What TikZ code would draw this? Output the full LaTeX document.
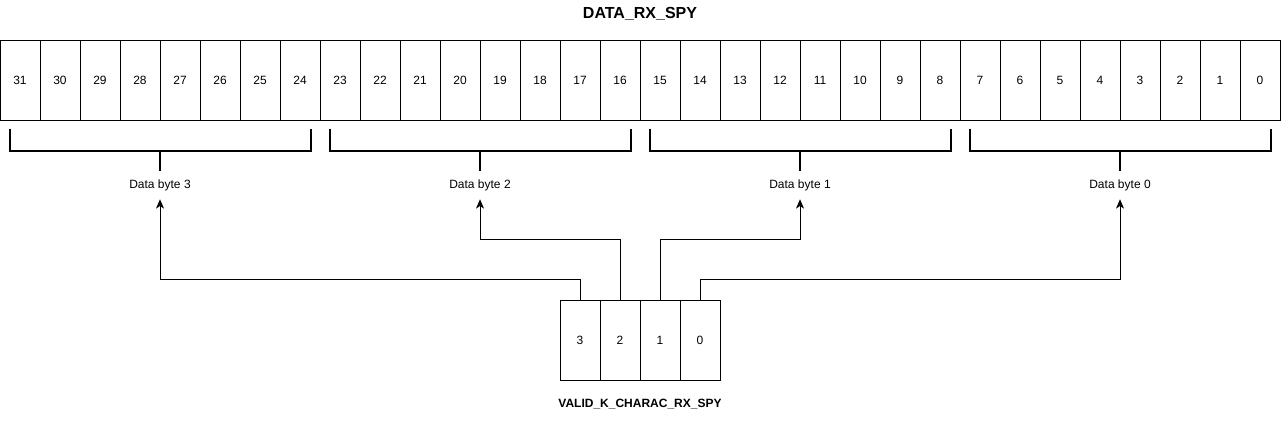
\documentclass[tikz,border=0pt]{standalone}
\usepackage{fontspec}
\setmainfont{Liberation Sans}
\usetikzlibrary{positioning,arrows.meta}

\begin{document}
\begin{tikzpicture}[x=0.75pt,y=-0.75pt,
                every node/.append style = {font=\fontsize{9pt}{10pt}\selectfont},
                bitcell/.style = {draw, line width=0.75pt, minimum width=30pt, minimum height=60pt, inner sep=0pt},
                bytebrace/.style = {line width=1.5pt},
                bytelabel/.style = {minimum height=21pt, inner sep=0pt},
                validlink/.style = {line width=0.75pt, -{Stealth[length=7pt,width=6pt,inset=2pt]}}]
            \useasboundingbox (0,0) rectangle (1281,421);
            \node[font=\fontsize{12pt}{14pt}\selectfont\bfseries] (title) at (640,14) {DATA\_RX\_SPY};
            \foreach \b in {0,...,31}
                \node[bitcell] (d\b) at ({(31-\b)*40+20},80) {\b};
            \foreach \k/\hi/\lo/\rise in {3/31/24/20,2/23/16/60,1/15/8/60,0/7/0/20} {
                \node[bytelabel] (byte\k) at ({(3-\k)*320+160},185) {Data byte \k};
                \draw[bytebrace] ([xshift=7.5pt,yshift=-6pt]d\hi.south west)
                    |- ([xshift=-7.5pt,yshift=-22.5pt]d\lo.south east)
                    -- ([xshift=-7.5pt,yshift=-6pt]d\lo.south east);
                \draw[bytebrace] (byte\k.north) -- ++(0,-21);
                \node[bitcell] (v\k) at ({(3-\k)*40+580},340) {\k};
                \draw[validlink] (v\k.north) -- ++(0,-\rise) -| (byte\k.south);
            }
            \node[font=\fontsize{9pt}{10pt}\selectfont\bfseries] (validname) at (640,404) {VALID\_K\_CHARAC\_RX\_SPY};
            \end{tikzpicture}
\end{document}
